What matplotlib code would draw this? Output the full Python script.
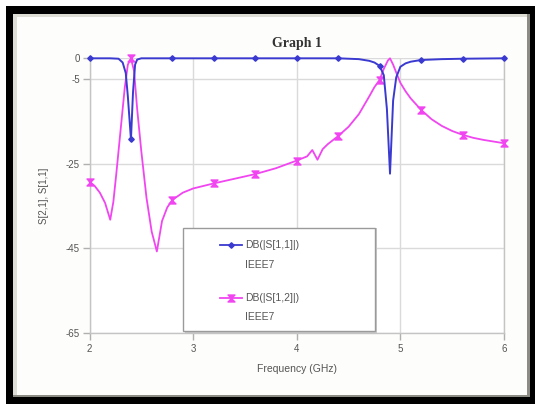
import numpy as np
import matplotlib
matplotlib.use("Agg")
import matplotlib.pyplot as plt
from matplotlib.patches import Rectangle
from matplotlib.path import Path
from matplotlib.lines import Line2D

plt.rcParams["axes.unicode_minus"] = False

# ---------------- data ----------------
s11_freq = [2.0, 2.2, 2.28, 2.32, 2.35, 2.37, 2.40, 2.42, 2.44, 2.46, 2.5, 2.8, 3.2, 3.6, 4.0,
            4.4, 4.6, 4.7, 4.75, 4.8, 4.84, 4.87, 4.9, 4.93, 4.96, 5.0, 5.05, 5.1, 5.2, 5.4,
            5.6, 6.0]
s11_db = [0, 0, -0.1, -1.0, -3.5, -9, -19.2, -8, -1.5, -0.3, 0, 0, 0, 0, 0,
          0, -0.2, -0.6, -1.0, -1.8, -4, -12, -27.3, -10, -4.5, -2, -1.2, -0.8, -0.4, -0.2,
          -0.1, 0]

s12_freq = [2.0, 2.05, 2.1, 2.15, 2.2, 2.23, 2.26, 2.3, 2.34, 2.37, 2.4, 2.43, 2.46, 2.5,
            2.55, 2.6, 2.65, 2.7, 2.75, 2.8, 2.9, 3.0, 3.2, 3.4, 3.6, 3.8, 4.0, 4.1, 4.15,
            4.2, 4.25, 4.3, 4.4, 4.5, 4.6, 4.7, 4.75, 4.8, 4.84, 4.88, 4.9, 4.93, 4.97, 5.0,
            5.05, 5.1, 5.2, 5.3, 5.4, 5.5, 5.6, 5.7, 5.8, 5.9, 6.0]
s12_db = [-29.2, -30.2, -31.8, -34.2, -38.2, -34, -27, -17, -7, -1.5, 0, -3, -12, -22,
          -33, -41, -45.7, -38.5, -35.3, -33.5, -31.8, -30.8, -29.6, -28.5, -27.4, -26, -24.2, -23.2, -21.7,
          -24, -21.5, -20.3, -18.4, -16.2, -13.2, -9, -6.8, -5.1, -2.5, -0.5, 0, -1.5, -4, -5.8,
          -7.8, -9.5, -12.2, -14.4, -16.0, -17.2, -18.1, -18.8, -19.3, -19.7, -20.1]

marker_freq = [2.0, 2.4, 2.8, 3.2, 3.6, 4.0, 4.4, 4.8, 5.2, 5.6, 6.0]

x_ticks = [2, 3, 4, 5, 6]
y_ticks = [0, -5, -25, -45, -65]

legend_labels = ["DB(|S[1,1]|)", "DB(|S[1,2]|)"]
legend_sub = "IEEE7"

# ---------------- style ----------------
W, H = 535, 404
BLUE = "#3a3ad0"
PINK = "#f045f0"
GRID = "#dadada"
TXT = "#555555"

hourglass = Path([(-1, 1), (1, 1), (-1, -1), (1, -1), (-1, 1)],
                 [Path.MOVETO, Path.LINETO, Path.LINETO, Path.LINETO, Path.CLOSEPOLY])

fig = plt.figure(figsize=(W / 100, H / 100), dpi=100)
fig.patch.set_facecolor("white")

def px_rect(x0, y0, x1, y1, **kw):
    r = Rectangle((x0 / W, 1 - y1 / H), (x1 - x0) / W, (y1 - y0) / H,
                  transform=fig.transFigure, **kw)
    fig.patches.append(r)

px_rect(6, 6, 535, 404, facecolor="black", edgecolor="none", zorder=-10)
px_rect(13, 14, 530, 397, facecolor="#8c8c84", edgecolor="none", zorder=-9)
px_rect(13, 14, 527, 395, facecolor="#deded6", edgecolor="none", zorder=-8)
px_rect(17, 17, 527, 395, facecolor="#fdfdfb", edgecolor="none", zorder=-7)

left, right, top, bottom = 89.5, 504, 58.3, 333
ax = fig.add_axes([left / W, 1 - bottom / H, (right - left) / W, (bottom - top) / H])
ax.set_facecolor("white")

def mk_idx(freqs):
    return [i for i, f in enumerate(freqs) if any(abs(f - m) < 1e-9 for m in marker_freq)]

ax.plot(s12_freq, s12_db, color=PINK, lw=1.3, marker=hourglass, ms=5,
        markevery=mk_idx(s12_freq), mfc=PINK, mec=PINK, clip_on=False, zorder=3)
ax.plot(s11_freq, s11_db, color=BLUE, lw=1.4, marker="D", ms=2.8,
        markevery=mk_idx(s11_freq), mfc=BLUE, mec=BLUE, clip_on=False, zorder=4)

ax.set_xlim(2, 6)
ax.set_ylim(-65, 0)
ax.set_xticks(x_ticks)
ax.set_yticks(y_ticks)
ax.grid(True, color=GRID, lw=1.0)
ax.set_axisbelow(True)
ax.spines["top"].set_visible(False)
for s in ["left", "bottom", "right"]:
    ax.spines[s].set_color("#c4c4c4")
    ax.spines[s].set_linewidth(1.0)
ax.tick_params(axis="both", colors="#b0b0b0", labelcolor=TXT, labelsize=7, length=5,
               direction="out", width=1.0)
ax.tick_params(axis="x", pad=3)
ax.tick_params(axis="y", pad=2)
for lab in ax.get_xticklabels() + ax.get_yticklabels():
    lab.set_family("Liberation Sans")

ax.set_title("Graph 1", family="Liberation Serif", fontweight="bold", fontsize=10,
             color="#333333", pad=8)
ax.set_xlabel("Frequency (GHz)", family="Liberation Sans", fontsize=7.5, color=TXT, labelpad=7)
ax.set_ylabel("S[2,1], S[1,1]", family="Liberation Sans", fontsize=7, color=TXT, labelpad=12)

# ---------------- legend box (axes fraction from pixel positions) ----------------
def ax_xy(px, py):
    return ((px - left) / (right - left), (bottom - py) / (bottom - top))

x0, y0 = ax_xy(183, 228)
x1, y1 = ax_xy(375, 333)
ax.add_patch(Rectangle((x0 + 0.004, y1), x1 - x0, y0 - y1, transform=ax.transAxes,
                       facecolor="#c8c8c8", edgecolor="none", zorder=5, clip_on=False))
ax.add_patch(Rectangle((x0, y1 + 0.006), x1 - x0, y0 - y1 - 0.006, transform=ax.transAxes,
                       facecolor="white", edgecolor="#9a9a9a", lw=1.0, zorder=6, clip_on=False))

entries = [(legend_labels[0], BLUE, "D", 2.8, 245, 265),
           (legend_labels[1], PINK, hourglass, 5, 298, 317)]
for lab, col, mk, ms, ya, yb in entries:
    ha, ya_ax = ax_xy(220, ya)
    hb, _ = ax_xy(242, ya)
    ax.add_line(Line2D([ha, hb], [ya_ax, ya_ax], transform=ax.transAxes, color=col, lw=1.3,
                       zorder=7, clip_on=False))
    ax.add_line(Line2D([(ha + hb) / 2], [ya_ax], transform=ax.transAxes, color=col, marker=mk,
                       ms=ms, mfc=col, mec=col, zorder=7, clip_on=False))
    tx, _ = ax_xy(245, ya)
    ax.text(tx, ya_ax, lab, transform=ax.transAxes, family="Liberation Sans", fontsize=7.5,
            color=TXT, va="center", ha="left", zorder=8)
    _, yb_ax = ax_xy(245, yb)
    ax.text(tx, yb_ax, legend_sub, transform=ax.transAxes, family="Liberation Sans",
            fontsize=7.5, color=TXT, va="center", ha="left", zorder=8)

fig.savefig("out.png", dpi=100)
